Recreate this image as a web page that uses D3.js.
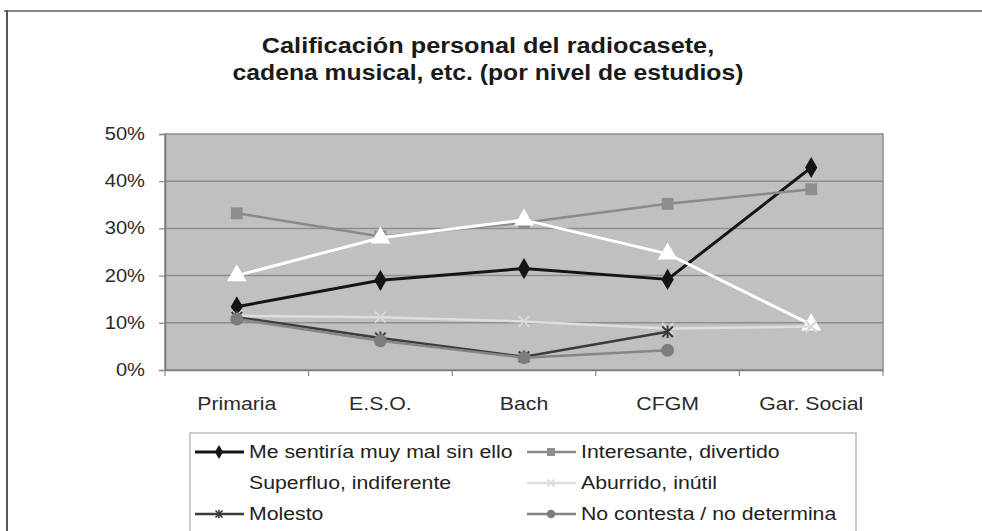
<!DOCTYPE html>
<html>
<head>
<meta charset="utf-8">
<script src="https://cdn.jsdelivr.net/npm/d3@7/dist/d3.min.js"></script>
<style>
  html, body { margin: 0; padding: 0; background: #fff; }
  svg { display: block; }
  text { font-family: "Liberation Sans", Arial, sans-serif; }
</style>
</head>
<body>
<svg id="chart" width="982" height="531"></svg>
<script>
// Categories (education level) and series values, in percent
const categories = ["Primaria", "E.S.O.", "Bach", "CFGM", "Gar. Social"];
const yTicks = [0, 10, 20, 30, 40, 50];

const meSentiria  = [13.4, 19.0, 21.5, 19.2, 42.9];
const interesante = [33.2, 28.3, 31.2, 35.2, 38.3];
const superfluo   = [20.0, 28.0, 31.8, 24.6, 9.6];
const aburrido    = [11.5, 11.2, 10.3, 8.8, 9.2];
const molesto     = [11.2, 6.8, 2.8, 8.1, null];
const noContesta  = [10.8, 6.2, 2.6, 4.2, null];

const seriesNames = [
  "Me sentiría muy mal sin ello",
  "Interesante, divertido",
  "Superfluo, indiferente",
  "Aburrido, inútil",
  "Molesto",
  "No contesta / no determina"
];

// Custom marker shapes
const symbolAsteriskX = {
  draw(ctx, size) {
    const r = Math.sqrt(size) / 2;
    ctx.moveTo(-r, -r); ctx.lineTo(r, r);
    ctx.moveTo(r, -r); ctx.lineTo(-r, r);
    ctx.moveTo(0, -r * 1.2); ctx.lineTo(0, r * 1.2);
  }
};
const symbolCross = {
  draw(ctx, size) {
    const r = Math.sqrt(size) / 2;
    ctx.moveTo(-r, -r); ctx.lineTo(r, r);
    ctx.moveTo(r, -r); ctx.lineTo(-r, r);
  }
};

const series = [
  { name: seriesNames[0], values: meSentiria,  line: "#151515", width: 3,   marker: d3.symbolDiamond,  size: 130, fill: "#151515", stroke: "none" },
  { name: seriesNames[1], values: interesante, line: "#8a8a8a", width: 2.5, marker: d3.symbolSquare,   size: 140, fill: "#8e8e8e", stroke: "none" },
  { name: seriesNames[2], values: superfluo,   line: "#ffffff", width: 3,   marker: d3.symbolTriangle, size: 170, fill: "#ffffff", stroke: "none" },
  { name: seriesNames[3], values: aburrido,    line: "#dedede", width: 2.5, marker: symbolCross,       size: 120, fill: "none",    stroke: "#d8d8d8" },
  { name: seriesNames[4], values: molesto,     line: "#3c3c3c", width: 2.5, marker: symbolAsteriskX,   size: 110, fill: "none",    stroke: "#3c3c3c" },
  { name: seriesNames[5], values: noContesta,  line: "#858585", width: 2.5, marker: d3.symbolCircle,   size: 130, fill: "#7d7d7d", stroke: "none" }
];

const svg = d3.select("#chart");
const SX = 1.15; // horizontal text stretch

function stretchedText(parent, x, y, str, opts) {
  return parent.append("text")
    .attr("transform", `translate(${x},${y}) scale(${SX},1)`)
    .attr("font-size", opts.size)
    .attr("font-weight", opts.weight || "normal")
    .attr("fill", opts.fill || "#222")
    .attr("text-anchor", opts.anchor || "start")
    .attr("dominant-baseline", opts.baseline || "auto")
    .text(str);
}

// Outer frame (top and left edges)
svg.append("line").attr("x1", 4).attr("x2", 982).attr("y1", 11).attr("y2", 11)
  .attr("stroke", "#8a8a8a").attr("stroke-width", 2);
svg.append("line").attr("x1", 7).attr("x2", 7).attr("y1", 10).attr("y2", 531)
  .attr("stroke", "#555").attr("stroke-width", 2);

// Title
stretchedText(svg, 488, 53, "Calificación personal del radiocasete,", { size: 22, weight: "bold", anchor: "middle", fill: "#1a1a1a" });
stretchedText(svg, 488, 80, "cadena musical, etc. (por nivel de estudios)", { size: 21.5, weight: "bold", anchor: "middle", fill: "#1a1a1a" });

// Plot area
const plot = { left: 165, right: 883, top: 134, bottom: 370 };
const x = d3.scaleBand().domain(categories).range([plot.left, plot.right]);
const y = d3.scaleLinear().domain([0, 50]).range([plot.bottom, plot.top]);

svg.append("rect")
  .attr("x", plot.left).attr("y", plot.top)
  .attr("width", plot.right - plot.left).attr("height", plot.bottom - plot.top)
  .attr("fill", "#c0c0c0").attr("stroke", "#8c8c8c").attr("stroke-width", 1.5);

// Gridlines
svg.append("g").selectAll("line")
  .data(yTicks.filter(d => d > 0 && d < 50))
  .join("line")
  .attr("x1", plot.left).attr("x2", plot.right)
  .attr("y1", d => y(d)).attr("y2", d => y(d))
  .attr("stroke", "#8e8e8e").attr("stroke-width", 1.5);

// Y axis
const yAxis = svg.append("g")
  .attr("transform", `translate(${plot.left},0)`)
  .call(d3.axisLeft(y).tickValues(yTicks).tickSize(6).tickFormat(""));
yAxis.select(".domain").attr("stroke", "#7a7a7a").attr("stroke-width", 1.5);
yAxis.selectAll(".tick line").attr("stroke", "#8a8a8a").attr("stroke-width", 1.2);
yTicks.forEach(t => {
  stretchedText(svg, 145, y(t), d3.format(".0%")(t / 100), { size: 17.5, anchor: "end", baseline: "central", fill: "#2a2a2a" });
});

// X axis: ticks at category boundaries
const xAxis = svg.append("g")
  .attr("transform", `translate(0,${plot.bottom})`)
  .call(d3.axisBottom(x).tickSize(0).tickFormat(""));
xAxis.select(".domain").attr("stroke", "#7a7a7a").attr("stroke-width", 1.5);
svg.append("g").selectAll("line")
  .data(categories)
  .join("line")
  .attr("x1", d => x(d)).attr("x2", d => x(d))
  .attr("y1", plot.bottom).attr("y2", plot.bottom + 6)
  .attr("stroke", "#8a8a8a").attr("stroke-width", 1.2);
svg.append("line")
  .attr("x1", plot.right).attr("x2", plot.right)
  .attr("y1", plot.bottom).attr("y2", plot.bottom + 6)
  .attr("stroke", "#8a8a8a").attr("stroke-width", 1.2);
categories.forEach(c => {
  stretchedText(svg, x(c) + x.bandwidth() / 2, 404, c, { size: 18.5, anchor: "middle", baseline: "central", fill: "#2a2a2a" });
});

// Series lines and markers
const cx = i => x(categories[i]) + x.bandwidth() / 2;
const lineGen = d3.line()
  .defined(d => d.v !== null)
  .x(d => cx(d.i))
  .y(d => y(d.v));

series.forEach(s => {
  const pts = s.values.map((v, i) => ({ v, i }));
  const g = svg.append("g");
  g.append("path")
    .datum(pts)
    .attr("d", lineGen)
    .attr("fill", "none")
    .attr("stroke", s.line)
    .attr("stroke-width", s.width)
    .attr("stroke-linejoin", "round");
  g.selectAll("path.m")
    .data(pts.filter(d => d.v !== null))
    .join("path")
    .attr("class", "m")
    .attr("transform", d => `translate(${cx(d.i)},${y(d.v)})`)
    .attr("d", d3.symbol().type(s.marker).size(s.size))
    .attr("fill", s.fill)
    .attr("stroke", s.stroke)
    .attr("stroke-width", 2);
});

// Legend
const legend = { left: 190, top: 433, right: 856 };
svg.append("rect")
  .attr("x", legend.left).attr("y", legend.top)
  .attr("width", legend.right - legend.left).attr("height", 120)
  .attr("fill", "#fff").attr("stroke", "#bdbdbd").attr("stroke-width", 1.5);

const rowY = [452, 483, 514];
const colX = [195, 527];
series.forEach((s, k) => {
  const col = k % 2, row = Math.floor(k / 2);
  const lx = colX[col], ly = rowY[row];
  const g = svg.append("g");
  g.append("line")
    .attr("x1", lx).attr("x2", lx + 49)
    .attr("y1", ly).attr("y2", ly)
    .attr("stroke", s.line).attr("stroke-width", s.width);
  g.append("path")
    .attr("transform", `translate(${lx + 24},${ly})`)
    .attr("d", d3.symbol().type(s.marker).size(s.size * 0.45))
    .attr("fill", s.fill)
    .attr("stroke", s.stroke)
    .attr("stroke-width", 1.6);
  stretchedText(svg, lx + 54, ly, s.name, { size: 18.5, baseline: "central", fill: "#222" });
});
</script>
</body>
</html>
